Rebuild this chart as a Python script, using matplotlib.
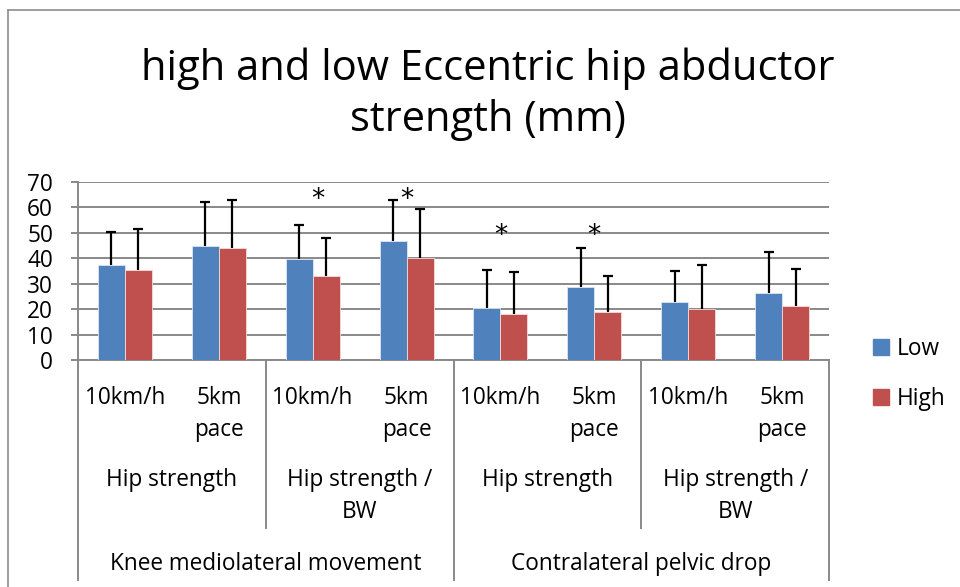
import numpy as np
import matplotlib
matplotlib.use("Agg")
from matplotlib import pyplot as plt
from matplotlib.transforms import blended_transform_factory
from matplotlib.lines import Line2D
from matplotlib.patches import Patch

# data
speeds = ["10km/h", "5km\npace"] * 4
measures = ["Hip strength", "Hip strength /\nBW", "Hip strength", "Hip strength /\nBW"]
outcomes = ["Knee mediolateral movement", "Contralateral pelvic drop"]

low_mean = [37.3, 44.8, 39.7, 46.5, 20.4, 28.6, 22.6, 26.4]
low_sd = [12.9, 17.2, 13.2, 16.1, 15.0, 15.2, 12.4, 16.1]
high_mean = [35.3, 43.8, 32.8, 39.9, 18.0, 18.8, 20.1, 21.2]
high_sd = [16.1, 18.8, 15.0, 19.3, 16.6, 14.3, 17.0, 14.6]

# significance marks (group index, height)
star_idx = [2, 3, 4, 5]
star_y = [62.7, 62.7, 48.6, 48.6]

blue = "#4F81BD"
red = "#C0504D"
grid_c = "#898989"
font = "Open Sans"
fs = 16.3

W, H = 960, 587
fig = plt.figure(figsize=(W / 100, H / 100), dpi=100)
ax = fig.add_axes([78 / W, 1 - 360 / H, (829 - 78) / W, (360 - 181.5) / H])

x = np.arange(len(low_mean))
bw = 0.287
ax.bar(x - bw / 2, low_mean, bw, color=blue, edgecolor="#dce6f2", linewidth=0.6, zorder=3)
ax.bar(x + bw / 2, high_mean, bw, color=red, edgecolor="#f2dcdb", linewidth=0.6, zorder=3)
for xs, m, sd in [(x - bw / 2, low_mean, low_sd), (x + bw / 2, high_mean, high_sd)]:
    eb = ax.errorbar(xs, m, yerr=[np.zeros(len(m)), sd], fmt="none", ecolor="black",
                     elinewidth=1.6, capsize=3.8, capthick=1.6, zorder=4)
    eb[1][0].set_visible(False)  # no cap at the bar top

for i, yv in zip(star_idx, star_y):
    ax.text(x[i] + (0.06 if i == 2 else 0), yv, "*", ha="center", va="center",
            fontsize=19, family="DejaVu Sans", zorder=5)

ax.set_xlim(-0.5, 7.5)
ax.set_ylim(0, 70)
ax.set_yticks(range(0, 71, 10))
ax.yaxis.grid(True, color=grid_c, linewidth=1.4, zorder=0)
ax.set_xticks([])
for s in ["top", "right"]:
    ax.spines[s].set_visible(False)
for s in ["left", "bottom"]:
    ax.spines[s].set_color(grid_c)
    ax.spines[s].set_linewidth(1.4)
ax.tick_params(axis="y", length=5, color=grid_c, width=1.4, labelsize=fs, pad=13)
for lab in ax.get_yticklabels():
    lab.set_family(font)

# multi-level category axis
tr = blended_transform_factory(ax.transData, fig.transFigure)


def fy(py):
    return 1 - py / H


def put_lines(xpos, text, base_py, gap, size, trans):
    for n, line in enumerate(text.split("\n")):
        ax.text(xpos, fy(base_py + n * gap), line, transform=trans, ha="center",
                va="baseline", fontsize=size, family=font)


for i, s in enumerate(speeds):
    put_lines(x[i], s, 404, 31.5, fs, tr)
for j, m in enumerate(measures):
    put_lines(2 * j + 0.5, m, 486.5, 31.5, fs, tr)
for k, o in enumerate(outcomes):
    put_lines(4 * k + 1.5, o, 570, 31.5, fs, tr)

for b in [1.5, 5.5]:
    ax.add_line(Line2D([b, b], [fy(360), fy(528)], transform=tr, color=grid_c,
                       linewidth=1.4, clip_on=False))
for b in [-0.5, 3.5, 7.5]:
    ax.add_line(Line2D([b, b], [fy(360), fy(580)], transform=tr, color=grid_c,
                       linewidth=1.4, clip_on=False))

# title
title_lines = ["high and low Eccentric hip abductor", "strength (mm)"]
for n, line in enumerate(title_lines):
    fig.text(488 / W, fy(80 + n * 51), line, ha="center", va="baseline",
             fontsize=30, family=font)

# legend
handles = [Patch(color=blue, label="Low"), Patch(color=red, label="High")]
fig.legend(handles=handles, loc="center left", bbox_to_anchor=(853 / W, fy(374)),
           frameon=False, prop={"family": font, "size": fs},
           handlelength=0.7, handleheight=0.7, handletextpad=0.35, labelspacing=1.15)

# outer frame of the chart area
fig.add_artist(Line2D([8 / W, 8 / W], [0, fy(10)], transform=fig.transFigure,
                      color="#8c8c8c", linewidth=1.2))
fig.add_artist(Line2D([8 / W, 1], [fy(10), fy(10)], transform=fig.transFigure,
                      color="#8c8c8c", linewidth=1.2))

fig.savefig("out.png", dpi=100)
